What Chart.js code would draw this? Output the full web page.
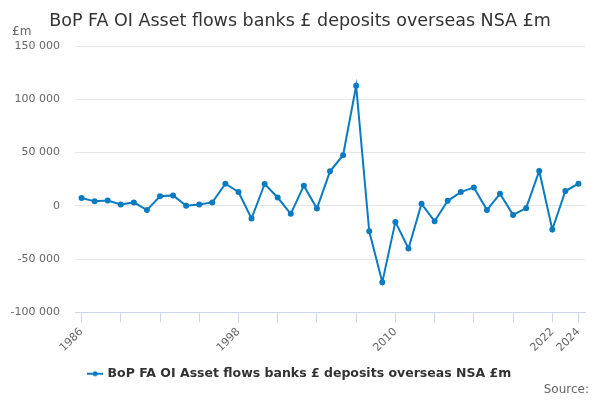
<!DOCTYPE html>
<html>
<head>
<meta charset="utf-8">
<script src="https://cdn.jsdelivr.net/npm/chart.js@4/dist/chart.umd.min.js"></script>
<style>
  html, body { margin: 0; padding: 0; background: #fff; }
  #wrap { position: relative; width: 600px; height: 400px; }
  .lbl { position: absolute; font-family: "DejaVu Sans", sans-serif; color: #666; font-size: 12px; }
  #title { position: absolute; left: 0; top: 10px; width: 600px; text-align: center; font-family: "DejaVu Sans", sans-serif; font-size: 17.5px; line-height: 21px; color: #333; }
</style>
</head>
<body>
<div id="wrap">
  <canvas id="c" width="600" height="400"></canvas>
  <div id="title"></div>
  <div class="lbl" style="left:12px; top:24px;">£m</div>
  <div class="lbl" style="right:11px; top:382px;">Source:</div>
</div>
<script>
const years = [1986,1987,1988,1989,1990,1991,1992,1993,1994,1995,1996,1997,1998,1999,2000,2001,2002,2003,2004,2005,2006,2007,2008,2009,2010,2011,2012,2013,2014,2015,2016,2017,2018,2019,2020,2021,2022,2023,2024];
const values = [7300,4200,5000,1300,3200,-4000,9000,9800,0,1300,3200,20700,13000,-11900,20500,7800,-7500,18900,-2500,32400,47500,112600,-23900,-71700,-15100,-40000,1900,-14500,4700,12900,17300,-4000,11300,-8500,-2200,32700,-22300,13900,20800];
const tickYears = [1986,1989,1992,1995,1998,2001,2004,2007,2010,2013,2016,2019,2022,2024];
const labelYears = [1986,1998,2010,2022,2024];
const seriesName = "BoP FA OI Asset flows banks £ deposits overseas NSA £m";
const titleText = "BoP FA OI Asset flows banks £ deposits overseas NSA £m";
const color = "#0b7bc1";

document.getElementById('title').textContent = titleText;

// legend marker: line with dot
const mk = document.createElement('canvas');
mk.width = 16; mk.height = 8;
const mctx = mk.getContext('2d');
mctx.strokeStyle = color; mctx.lineWidth = 2;
mctx.beginPath(); mctx.moveTo(0,4); mctx.lineTo(16,4); mctx.stroke();
mctx.fillStyle = color; mctx.beginPath(); mctx.arc(8,4,2.5,0,Math.PI*2); mctx.fill();

const fmt = v => String(Math.abs(v)).replace(/\B(?=(\d{3})+(?!\d))/g, ' ');

new Chart(document.getElementById('c'), {
  type: 'line',
  data: {
    datasets: [{
      label: seriesName,
      data: years.map((y,i) => ({x: y, y: values[i]})),
      borderColor: color,
      backgroundColor: color,
      borderWidth: 2,
      pointRadius: 2,
      pointHoverRadius: 2,
      pointStyle: 'circle',
      tension: 0,
      yAxisID: 'y'
    }]
  },
  options: {
    responsive: false,
    animation: false,
    layout: { padding: { left: 2, right: 2, bottom: 10, top: 46 } },
    plugins: {
      title: { display: false },
      legend: {
        position: 'bottom',
        labels: {
          usePointStyle: true,
          pointStyle: mk,
          color: '#333',
          font: { family: 'DejaVu Sans', size: 12.5, weight: 'bold' },
          padding: 10
        }
      },
      tooltip: { enabled: false }
    },
    scales: {
      x: {
        type: 'linear',
        min: 1985.5,
        max: 2024.5,
        afterBuildTicks: s => { s.ticks = tickYears.map(v => ({value: v})); },
        ticks: {
          autoSkip: false,
          maxRotation: 45,
          minRotation: 45,
          color: '#666',
          font: { family: 'DejaVu Sans', size: 11 },
          callback: v => labelYears.includes(v) ? String(v) : ''
        },
        grid: { drawOnChartArea: false, drawTicks: true, tickLength: 10, tickColor: '#ccd6eb' },
        border: { display: true, color: '#ccd6eb' }
      },
      y: {
        min: -100000,
        max: 150000,
        afterFit: s => { s.width = 73; },
        ticks: {
          stepSize: 50000,
          color: '#666',
          font: { family: 'DejaVu Sans', size: 11 },
          padding: 15,
          callback: v => (v < 0 ? '-' : '') + fmt(v)
        },
        grid: { color: '#e6e6e6', drawTicks: false },
        border: { display: false }
      },
      yRight: {
        type: 'linear',
        position: 'right',
        min: -100000,
        max: 150000,
        afterFit: s => { s.width = 13; },
        ticks: { display: false },
        grid: { display: false, drawTicks: false },
        border: { display: false }
      }
    }
  }
});
</script>
</body>
</html>
